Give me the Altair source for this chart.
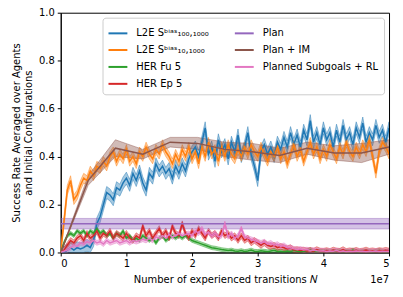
import altair as alt
import pandas as pd

# x positions in units of 1e7 experienced transitions
STEPS = [round(i * 0.05, 2) for i in range(101)]

l2e_100 = [
    0.00, 0.00, 0.01, 0.02, 0.01, 0.02, 0.015, 0.02, 0.03, 0.02,
    0.05, 0.12, 0.15, 0.20, 0.25, 0.24, 0.22, 0.27, 0.26, 0.29,
    0.31, 0.28, 0.33, 0.30, 0.34, 0.29, 0.26, 0.33, 0.31, 0.37,
    0.34, 0.36, 0.33, 0.35, 0.31, 0.36, 0.33, 0.37, 0.34, 0.39,
    0.42, 0.44, 0.40, 0.46, 0.52, 0.41, 0.44, 0.38, 0.47, 0.42,
    0.45, 0.39, 0.46, 0.42, 0.49, 0.40, 0.44, 0.50, 0.41, 0.36,
    0.30, 0.42, 0.45, 0.41, 0.44, 0.40, 0.46, 0.43, 0.48, 0.44,
    0.50, 0.45, 0.49, 0.44, 0.51, 0.47, 0.55, 0.46, 0.50, 0.45,
    0.52, 0.47, 0.50, 0.44, 0.51, 0.46, 0.53, 0.47, 0.50, 0.45,
    0.52, 0.48, 0.54, 0.46, 0.50, 0.47, 0.53, 0.48, 0.51, 0.46,
    0.52,
]
l2e_10 = [
    0.00, 0.13, 0.26, 0.30, 0.22, 0.24, 0.28, 0.31, 0.30, 0.34,
    0.32, 0.36, 0.35, 0.38, 0.36, 0.40, 0.42, 0.38, 0.41, 0.39,
    0.43, 0.38, 0.40, 0.37, 0.42, 0.40, 0.44, 0.41, 0.39, 0.43,
    0.41, 0.45, 0.42, 0.40, 0.37, 0.41, 0.38, 0.43, 0.40, 0.44,
    0.39, 0.42, 0.37, 0.44, 0.40, 0.46, 0.41, 0.43, 0.38, 0.44,
    0.40, 0.45, 0.41, 0.39, 0.43, 0.40, 0.44, 0.41, 0.45, 0.42,
    0.40, 0.44, 0.41, 0.38, 0.42, 0.40, 0.44, 0.39, 0.42, 0.37,
    0.41, 0.45, 0.40, 0.43, 0.38, 0.42, 0.46, 0.41, 0.44, 0.39,
    0.43, 0.40, 0.45, 0.42, 0.39, 0.44, 0.41, 0.46, 0.42, 0.40,
    0.44, 0.41, 0.45, 0.42, 0.47, 0.40, 0.33, 0.42, 0.46, 0.44,
    0.41,
]
her_fu = [
    0.00, 0.04, 0.07, 0.08, 0.07, 0.09, 0.08, 0.09, 0.07, 0.09,
    0.08, 0.10, 0.08, 0.09, 0.07, 0.08, 0.06, 0.08, 0.07, 0.09,
    0.06, 0.07, 0.05, 0.06, 0.05, 0.07, 0.06, 0.05, 0.06, 0.04,
    0.06, 0.07, 0.05, 0.06, 0.07, 0.06, 0.07, 0.06, 0.07, 0.06,
    0.05, 0.045, 0.04, 0.035, 0.03, 0.025, 0.02, 0.018, 0.015, 0.012,
    0.010, 0.008, 0.010, 0.006, 0.005, 0.008, 0.004, 0.006, 0.010, 0.005,
    0.004, 0.007, 0.005, 0.003, 0.006, 0.009, 0.004, 0.005, 0.003, 0.006,
    0.004, 0.008, 0.005, 0.003, 0.004, 0.006, 0.012, 0.004, 0.003, 0.005,
    0.004, 0.006, 0.003, 0.005, 0.004, 0.007, 0.003, 0.005, 0.004, 0.010,
    0.004, 0.003, 0.005, 0.006, 0.004, 0.003, 0.005, 0.008, 0.004, 0.003,
    0.005,
]
her_ep = [
    0.00, 0.01, 0.03, 0.05, 0.04, 0.06, 0.07, 0.05, 0.08, 0.06,
    0.07, 0.09, 0.06, 0.08, 0.07, 0.09, 0.06, 0.08, 0.07, 0.06,
    0.08, 0.06, 0.05, 0.07, 0.06, 0.11, 0.07, 0.09, 0.06, 0.08,
    0.10, 0.07, 0.09, 0.06, 0.11, 0.08, 0.07, 0.12, 0.08, 0.06,
    0.09, 0.07, 0.10, 0.08, 0.06, 0.09, 0.07, 0.08, 0.06, 0.09,
    0.07, 0.08, 0.06, 0.07, 0.05, 0.07, 0.05, 0.06, 0.04, 0.05,
    0.04, 0.03, 0.04, 0.03, 0.025, 0.03, 0.02, 0.025, 0.02, 0.015,
    0.02, 0.01, 0.012, 0.008, 0.010, 0.006, 0.009, 0.005, 0.012, 0.006,
    0.005, 0.008, 0.004, 0.010, 0.006, 0.005, 0.012, 0.004, 0.007, 0.005,
    0.009, 0.004, 0.006, 0.010, 0.005, 0.007, 0.004, 0.008, 0.006, 0.009,
    0.006,
]
planned_rl = [
    0.00, 0.005, 0.01, 0.02, 0.03, 0.025, 0.04, 0.035, 0.045, 0.04,
    0.05, 0.04, 0.045, 0.035, 0.05, 0.04, 0.045, 0.05, 0.04, 0.045,
    0.05, 0.04, 0.05, 0.045, 0.05, 0.055, 0.05, 0.06, 0.05, 0.065,
    0.06, 0.07, 0.06, 0.075, 0.065, 0.07, 0.08, 0.07, 0.075, 0.08,
    0.07, 0.09, 0.08, 0.10, 0.075, 0.085, 0.07, 0.08, 0.065, 0.07,
    0.12, 0.065, 0.08, 0.06, 0.07, 0.10, 0.065, 0.06, 0.055, 0.05,
    0.045, 0.04, 0.045, 0.035, 0.04, 0.03, 0.035, 0.025, 0.03, 0.02,
    0.02, 0.015, 0.012, 0.015, 0.01, 0.012, 0.008, 0.01, 0.007, 0.006,
    0.007, 0.004, 0.006, 0.005, 0.008, 0.004, 0.006, 0.003, 0.005, 0.004,
    0.006, 0.004, 0.005, 0.003, 0.005, 0.004, 0.006, 0.004, 0.005, 0.004,
    0.005,
]

plan_x = [0.0, 5.0]
plan_y = [0.12, 0.12]
plan_sd = [0.022, 0.022]

plan_im_x = [0.0, 0.417, 0.833, 1.25, 1.667, 2.083, 2.5, 2.917, 3.333, 3.75, 4.167, 4.583, 5.0]
plan_im_y = [0.0, 0.30, 0.435, 0.41, 0.46, 0.455, 0.43, 0.42, 0.405, 0.435, 0.415, 0.415, 0.44]
plan_im_sd = [0.0, 0.02, 0.035, 0.02, 0.02, 0.025, 0.03, 0.035, 0.03, 0.025, 0.03, 0.04, 0.03]

N100 = "L2E Sᵇⁱᵃˢ₁₀₀,₁₀₀₀"
N10 = "L2E Sᵇⁱᵃˢ₁₀,₁₀₀₀"
NFU = "HER Fu 5"
NEP = "HER Ep 5"
NPLAN = "Plan"
NIM = "Plan + IM"
NSUB = "Planned Subgoals + RL"

noisy_sd = {N100: 0.025, N10: 0.02, NFU: 0.008, NEP: 0.012, NSUB: 0.01}

COLORS = {N100: "#1f77b4", N10: "#ff7f0e", NFU: "#2ca02c", NEP: "#d62728",
          NPLAN: "#9467bd", NIM: "#8c564b", NSUB: "#e377c2"}

# drawing order (matplotlib order)
series = [
    (N100, STEPS, l2e_100, [noisy_sd[N100]] * len(STEPS)),
    (N10, STEPS, l2e_10, [noisy_sd[N10]] * len(STEPS)),
    (NFU, STEPS, her_fu, [noisy_sd[NFU]] * len(STEPS)),
    (NEP, STEPS, her_ep, [noisy_sd[NEP]] * len(STEPS)),
    (NPLAN, plan_x, plan_y, plan_sd),
    (NIM, plan_im_x, plan_im_y, plan_im_sd),
    (NSUB, STEPS, planned_rl, [noisy_sd[NSUB]] * len(STEPS)),
]

rows = []
for name, xs, ys, sds in series:
    for x, y, s in zip(xs, ys, sds):
        rows.append({"series": name, "x": x, "mean": y,
                     "lo": max(y - s, 0.0), "hi": y + s})
df = pd.DataFrame(rows)

legend_order = [N100, N10, NFU, NEP, NPLAN, NIM, NSUB]
cscale = alt.Scale(domain=legend_order, range=[COLORS[n] for n in legend_order])

FONT = "DejaVu Sans"

xscale = alt.Scale(domain=[0, 5], nice=False, zero=False)
yscale = alt.Scale(domain=[0, 1], nice=False)

x_axis = alt.Axis(values=[0, 1, 2, 3, 4, 5], format="d",
                  title="Number of experienced transitions 𝑁", titlePadding=6)
y_axis = alt.Axis(values=[0, 0.2, 0.4, 0.6, 0.8, 1.0], format=".1f",
                  title=["Success Rate Averaged over Agents", "and Initial Configurations"],
                  titlePadding=5, titleLineHeight=12)

legend = alt.Legend(orient="top-right", offset=5, columns=2, title=None,
                    symbolType="stroke", symbolSize=360, symbolStrokeWidth=2,
                    labelFont=FONT, labelFontSize=10, labelColor="black",
                    labelOffset=8, labelLimit=300,
                    fillColor="white", strokeColor="#cccccc",
                    padding=5, rowPadding=1, columnPadding=22, cornerRadius=3)

base = alt.Chart(df)
areas, lines = [], []
for name, _, _, _ in series:
    sub = base.transform_filter(alt.datum.series == name)
    areas.append(sub.mark_area(fill=COLORS[name], fillOpacity=0.4,
                               stroke=COLORS[name], strokeOpacity=0.45, strokeWidth=1,
                               clip=True).encode(
        x=alt.X("x:Q", scale=xscale, axis=x_axis),
        y=alt.Y("lo:Q", scale=yscale, axis=y_axis, stack=None),
        y2="hi:Q",
    ))
    lines.append(sub.mark_line(strokeWidth=1.5, clip=True).encode(
        x=alt.X("x:Q", scale=xscale, axis=x_axis),
        y=alt.Y("mean:Q", scale=yscale, axis=y_axis),
        color=alt.Color("series:N", scale=cscale, legend=legend),
    ))

offset_label = alt.Chart(pd.DataFrame({"t": ["1e7"]})).mark_text(
    align="right", baseline="middle", font=FONT, fontSize=10, color="black"
).encode(text="t:N", x=alt.value(330), y=alt.value(269))

chart = alt.layer(*areas, *lines, offset_label).properties(
    width=330, height=241,
    autosize=alt.AutoSizeParams(type="none"),
    padding={"left": 53, "top": 4, "right": 6, "bottom": 40},
).configure(font=FONT).configure_view(
    stroke="black", strokeWidth=1
).configure_axis(
    grid=False, domainColor="black", tickColor="black", labelColor="black",
    titleColor="black", labelFont=FONT, titleFont=FONT, labelFontSize=10,
    titleFontSize=10, titleFontWeight="normal", tickSize=3.5, labelPadding=3,
    domainWidth=1, tickWidth=1,
)

chart.save("out.html", embed_options={"renderer": "svg", "actions": False})
